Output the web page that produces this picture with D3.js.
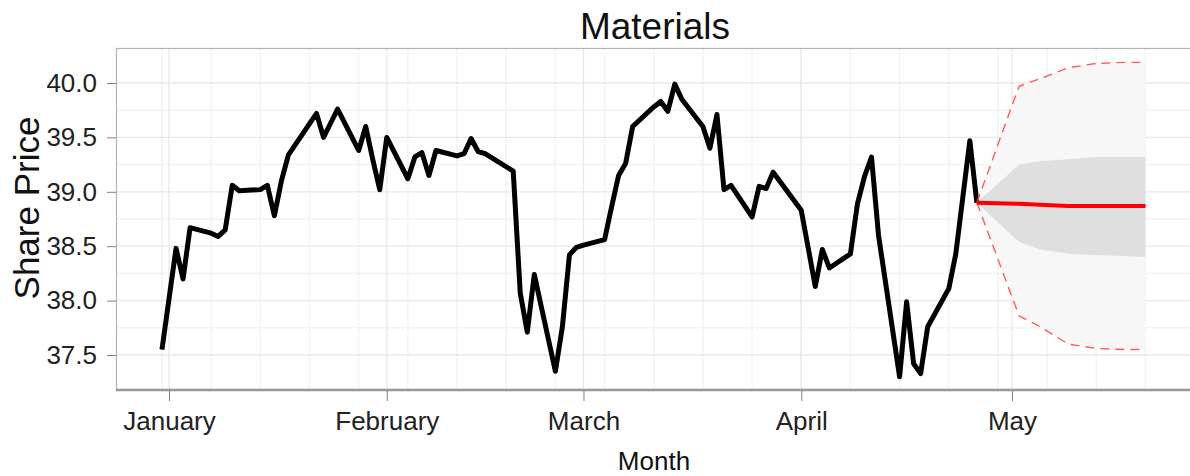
<!DOCTYPE html>
<html>
<head>
<meta charset="utf-8">
<script src="https://cdn.jsdelivr.net/npm/d3@7"></script>
<style>
  html, body { margin: 0; padding: 0; background: #fff; }
  svg { display: block; font-family: "Liberation Sans", Arial, sans-serif; }
</style>
</head>
<body>
<svg id="chart" width="1190" height="476"></svg>
<script>
// ---- data ----
const title = "Materials";
const xTitle = "Month";
const yTitle = "Share Price";

const priceDates = [
  "2012-12-31","2013-01-02","2013-01-03","2013-01-04","2013-01-07","2013-01-08","2013-01-09",
  "2013-01-10","2013-01-11","2013-01-14","2013-01-15","2013-01-16","2013-01-17","2013-01-18",
  "2013-01-22","2013-01-23","2013-01-24","2013-01-25","2013-01-28","2013-01-29","2013-01-30",
  "2013-01-31","2013-02-01","2013-02-04","2013-02-05","2013-02-06","2013-02-07","2013-02-08",
  "2013-02-11","2013-02-12","2013-02-13","2013-02-14","2013-02-15","2013-02-19","2013-02-20",
  "2013-02-21","2013-02-22","2013-02-25","2013-02-26","2013-02-27","2013-02-28","2013-03-01",
  "2013-03-04","2013-03-05","2013-03-06","2013-03-07","2013-03-08","2013-03-11","2013-03-12",
  "2013-03-13","2013-03-14","2013-03-15","2013-03-18","2013-03-19","2013-03-20","2013-03-21",
  "2013-03-22","2013-03-25","2013-03-26","2013-03-27","2013-03-28","2013-04-01","2013-04-02",
  "2013-04-03","2013-04-04","2013-04-05","2013-04-08","2013-04-09","2013-04-10","2013-04-11",
  "2013-04-12","2013-04-15","2013-04-16","2013-04-17","2013-04-18","2013-04-19","2013-04-22",
  "2013-04-23","2013-04-24","2013-04-25","2013-04-26"
];
const priceValues = [
  37.55, 38.48, 38.20, 38.67, 38.62, 38.59, 38.65,
  39.06, 39.01, 39.02, 39.06, 38.78, 39.10, 39.34,
  39.72, 39.50, 39.63, 39.76, 39.38, 39.60, 39.30,
  39.02, 39.50, 39.12, 39.32, 39.36, 39.15, 39.38,
  39.33, 39.35, 39.49, 39.37, 39.35, 39.19, 38.07,
  37.71, 38.24, 37.35, 37.76, 38.42, 38.49, 38.51,
  38.56, 38.86, 39.15, 39.26, 39.60, 39.78, 39.83,
  39.74, 39.99, 39.85, 39.60, 39.40, 39.71, 39.02,
  39.06, 38.77, 39.05, 39.03, 39.18, 38.83, 38.48,
  38.13, 38.47, 38.30, 38.43, 38.89, 39.14, 39.32,
  38.60, 37.30, 37.99, 37.42, 37.33, 37.76, 38.11,
  38.43, 38.95, 39.47, 38.90
];

const fcDates   = ["2013-04-26","2013-05-02","2013-05-05","2013-05-09","2013-05-13","2013-05-17","2013-05-20"];
const fcMean    = [38.90, 38.89, 38.88, 38.87, 38.87, 38.87, 38.87];
const fcLo80    = [38.90, 38.54, 38.47, 38.43, 38.42, 38.41, 38.40];
const fcHi80    = [38.90, 39.25, 39.28, 39.30, 39.32, 39.32, 39.32];
const fcLo95    = [38.90, 37.86, 37.76, 37.60, 37.56, 37.55, 37.55];
const fcHi95    = [38.90, 39.97, 40.04, 40.14, 40.18, 40.19, 40.19];

const yTicks = [37.5, 38.0, 38.5, 39.0, 39.5, 40.0];
const yMinor = [37.75, 38.25, 38.75, 39.25, 39.75];
const monthTicks = ["2013-01-01","2013-02-01","2013-03-01","2013-04-01","2013-05-01"];

// ---- layout ----
const svg = d3.select("#chart");
const P = { left: 116, top: 48, right: 1192, bottom: 390 };
const parse = d3.utcParse("%Y-%m-%d");

// x: anchor Jan 1 and May 1 positions, then extend domain to the panel edges
const x = d3.scaleUtc().domain([parse("2013-01-01"), parse("2013-05-01")]).range([169, 1012]);
x.domain([x.invert(P.left), x.invert(P.right)]).range([P.left, P.right]);

const y = d3.scaleLinear().domain([37.5, 40.0]).range([355, 83]);
y.domain([y.invert(P.bottom), y.invert(P.top)]).range([P.bottom, P.top]);

const price = priceDates.map((d, i) => ({ d: parse(d), v: priceValues[i] }));
const fc = fcDates.map((d, i) => ({ d: parse(d), m: fcMean[i], l80: fcLo80[i], h80: fcHi80[i], l95: fcLo95[i], h95: fcHi95[i] }));

// ---- panel ----
const g = svg.append("g");
g.append("rect").attr("x", P.left).attr("y", P.top)
  .attr("width", P.right - P.left).attr("height", P.bottom - P.top).attr("fill", "#fff");

// minor grid
const weekly = d3.utcMonday.range(x.domain()[0], x.domain()[1]);
g.append("g").selectAll("line").data(weekly).join("line")
  .attr("x1", d => x(d)).attr("x2", d => x(d)).attr("y1", P.top).attr("y2", P.bottom)
  .attr("stroke", "#f3f3f3").attr("stroke-width", 1.5);
g.append("g").selectAll("line").data(yMinor).join("line")
  .attr("x1", P.left).attr("x2", P.right).attr("y1", d => y(d)).attr("y2", d => y(d))
  .attr("stroke", "#f3f3f3").attr("stroke-width", 1.5);
// major grid
const months = monthTicks.map(parse);
g.append("g").selectAll("line").data(months).join("line")
  .attr("x1", d => x(d)).attr("x2", d => x(d)).attr("y1", P.top).attr("y2", P.bottom)
  .attr("stroke", "#e8e8e8").attr("stroke-width", 1.3);
g.append("g").selectAll("line").data(yTicks).join("line")
  .attr("x1", P.left).attr("x2", P.right).attr("y1", d => y(d)).attr("y2", d => y(d))
  .attr("stroke", "#e8e8e8").attr("stroke-width", 1.3);

// forecast ribbons
g.append("path").datum(fc)
  .attr("d", d3.area().x(d => x(d.d)).y0(d => y(d.l95)).y1(d => y(d.h95)))
  .attr("fill", "#f7f7f7");
g.append("path").datum(fc)
  .attr("d", d3.area().x(d => x(d.d)).y0(d => y(d.l80)).y1(d => y(d.h80)))
  .attr("fill", "#dfdfdf");

// price line
g.append("path").datum(price)
  .attr("d", d3.line().x(d => x(d.d)).y(d => y(d.v)))
  .attr("fill", "none").attr("stroke", "#000").attr("stroke-width", 5)
  .attr("stroke-linejoin", "round");

// dashed 95% limits
["l95", "h95"].forEach(k => {
  g.append("path").datum(fc)
    .attr("d", d3.line().x(d => x(d.d)).y(d => y(d[k])))
    .attr("fill", "none").attr("stroke", "#ff5a5a").attr("stroke-width", 1.4)
    .attr("stroke-dasharray", "9,6");
});
// mean forecast
g.append("path").datum(fc)
  .attr("d", d3.line().x(d => x(d.d)).y(d => y(d.m)))
  .attr("fill", "none").attr("stroke", "#ff0000").attr("stroke-width", 4);

// panel border
g.append("rect").attr("x", P.left + 0.5).attr("y", P.top + 0.5)
  .attr("width", P.right - P.left).attr("height", P.bottom - P.top - 1)
  .attr("fill", "none").attr("stroke", "#b3b3b3").attr("stroke-width", 1.2);
g.append("line").attr("x1", P.left).attr("x2", P.right).attr("y1", P.bottom).attr("y2", P.bottom)
  .attr("stroke", "#999").attr("stroke-width", 2.5);

// axes
const xAxis = d3.axisBottom(x).tickValues(months).tickFormat(d3.utcFormat("%B")).tickSize(10).tickPadding(0);
const gx = svg.append("g").attr("transform", `translate(0,${P.bottom + 1})`).call(xAxis);
gx.select(".domain").remove();
gx.selectAll(".tick line").attr("stroke", "#7f7f7f");
gx.selectAll(".tick text").attr("fill", "#222").attr("font-size", 26)
  .attr("font-family", "Liberation Sans, Arial, sans-serif")
  .attr("y", 39).attr("dy", null);

const yAxis = d3.axisLeft(y).tickValues(yTicks).tickFormat(d3.format(".1f")).tickSize(9).tickPadding(10);
const gy = svg.append("g").attr("transform", `translate(${P.left},0)`).call(yAxis);
gy.select(".domain").remove();
gy.selectAll(".tick line").attr("stroke", "#7f7f7f");
gy.selectAll(".tick text").attr("fill", "#222").attr("font-size", 26)
  .attr("font-family", "Liberation Sans, Arial, sans-serif");

// titles
svg.append("text").attr("x", 655).attr("y", 39).attr("text-anchor", "middle")
  .attr("font-size", 37).attr("fill", "#111").text(title);
svg.append("text").attr("x", 654).attr("y", 470).attr("text-anchor", "middle")
  .attr("font-size", 26).attr("fill", "#111").text(xTitle);
svg.append("text").attr("transform", "translate(39,208) rotate(-90)").attr("text-anchor", "middle")
  .attr("font-size", 35).attr("fill", "#111").text(yTitle);
</script>
</body>
</html>
